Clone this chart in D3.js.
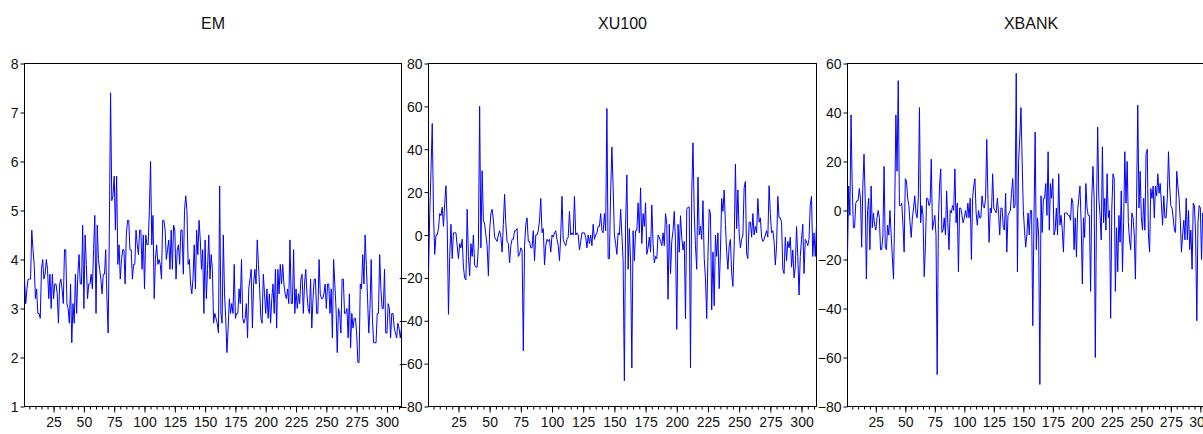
<!DOCTYPE html>
<html>
<head>
<meta charset="utf-8">
<style>
    body { margin: 0; background: #fff; overflow: hidden; }
    svg { display: block; background: #fff; }
    text { font-family: 'Liberation Sans Narrow', 'Arial Narrow', 'Liberation Sans', Arial, sans-serif; fill: #111; }
    .title { font-size: 16px; }
    .axis text { font-size: 14px; }
    .axis line, .axis path { stroke: #000; }
</style>
</head>
<body>
<svg id="chart" width="1203" height="434"></svg>

<script src="https://d3js.org/d3.v7.min.js"></script>
<script>
const emValues = [
    3.6, 3.1, 3.4, 3.6, 3.6, 3.6, 4.6, 4.2, 3.9, 3.2,
    3.4, 2.9, 2.9, 2.8, 3.8, 4.0, 3.6, 3.7, 4.0, 3.8,
    3.2, 3.7, 3.0, 3.7, 3.2, 3.5, 3.5, 3.3, 2.7, 3.5,
    3.6, 3.4, 3.1, 4.2, 4.2, 3.1, 3.0, 2.7, 3.5, 2.3,
    3.1, 2.7, 3.7, 2.9, 3.7, 4.1, 3.5, 3.5, 4.7, 3.0,
    4.5, 3.9, 3.2, 3.5, 3.5, 3.7, 3.4, 4.2, 4.9, 2.9,
    4.7, 4.0, 3.8, 3.6, 3.3, 3.7, 3.7, 4.2, 3.2, 2.5,
    4.6, 7.4, 5.2, 5.3, 5.7, 4.6, 5.7, 3.9, 4.3, 3.6,
    4.0, 4.2, 4.2, 3.5, 4.5, 4.8, 4.8, 4.2, 4.2, 3.6,
    3.9, 3.9, 4.6, 4.3, 4.1, 4.6, 4.6, 3.8, 4.5, 3.4,
    4.5, 4.3, 4.3, 5.0, 6.0, 4.3, 4.9, 3.2, 4.0, 4.3,
    3.9, 4.0, 3.9, 3.6, 4.8, 4.8, 4.6, 4.0, 4.2, 4.4,
    3.8, 4.6, 3.8, 4.7, 4.6, 3.6, 4.2, 4.3, 3.9, 4.6,
    4.6, 3.7, 5.0, 5.3, 5.0, 3.9, 4.0, 3.5, 3.3, 3.6,
    4.3, 3.4, 4.6, 4.1, 4.8, 4.4, 3.8, 4.2, 2.9, 4.4,
    3.2, 3.8, 4.5, 3.6, 4.1, 3.8, 2.7, 2.9, 2.8, 2.7,
    2.5, 5.5, 2.9, 2.7, 4.5, 3.3, 2.8, 2.1, 2.6, 3.2,
    2.9, 3.1, 2.9, 3.9, 2.8, 2.9, 2.9, 3.4, 3.1, 4.0,
    2.8, 2.7, 2.8, 3.1, 2.4, 3.4, 3.6, 3.8, 2.6, 3.5,
    3.8, 3.5, 4.4, 3.9, 3.4, 2.8, 2.7, 3.7, 3.3, 2.9,
    3.4, 2.8, 3.3, 2.7, 3.2, 3.5, 2.9, 3.8, 2.6, 3.8,
    3.3, 3.9, 3.5, 3.9, 3.5, 3.3, 3.2, 3.4, 3.1, 4.4,
    3.1, 3.1, 4.2, 2.9, 3.4, 3.0, 3.3, 3.1, 3.6, 3.7,
    2.9, 3.5, 3.8, 3.3, 3.0, 2.9, 3.6, 2.6, 3.2, 3.6,
    3.6, 2.9, 2.9, 4.0, 3.3, 3.2, 3.2, 3.3, 3.5, 3.0,
    3.5, 3.5, 2.9, 3.4, 2.4, 4.0, 3.5, 3.0, 2.1, 3.0,
    2.9, 2.5, 3.6, 3.6, 2.9, 2.9, 3.0, 2.4, 3.3, 2.2,
    2.9, 2.6, 2.8, 2.8, 2.5, 1.9, 1.9, 3.5, 3.4, 4.1,
    3.5, 4.5, 3.9, 3.2, 2.5, 3.0, 4.0, 2.8, 2.3, 2.3,
    2.3, 2.9, 2.9, 4.1, 3.4, 3.0, 3.0, 3.8, 2.5, 2.5,
    3.1, 3.0, 2.4, 2.9, 2.9, 2.6, 2.5, 2.4, 2.7, 2.6,
    2.4, 2.6
]

const xu100Values = [
    -18, 10, 30, 52, 10, -9, 0, 0, 3, 10,
    9, 13, 4, 15, 23, 5, -37, -10, 5, -11,
    1, 1, 1, -5, -11, -4, -6, -2, -15, -20,
    -21, 12, -10, -19, -4, -10, 0, -14, -15, -15,
    -5, 60, -6, 30, 7, 5, 0, -5, -19, 2,
    10, 12, 7, -1, -2, -3, 0, 2, -1, -8,
    5, 19, 5, -3, -4, -13, -5, -2, -2, 2,
    2, 3, -10, -9, -6, -7, -54, -5, 5, 8,
    -3, -3, -6, -6, 2, -12, 0, 0, 2, 7,
    17, 1, 3, -14, -5, -2, -3, -2, -8, 0,
    -1, 1, 2, -2, -5, -12, 0, 18, -2, -4,
    -5, -2, -1, 11, 0, 1, 0, 18, 0, 1,
    0, -7, -3, 1, 1, 1, -1, -6, 0, -4,
    0, -5, 5, -2, 0, 1, 4, 4, 10, 2,
    1, 10, 2, 59, -11, -11, 20, 41, 22, 0,
    -4, -9, 1, 0, 12, 0, -12, -68, 5, 28,
    -16, 3, -13, -62, 2, -12, 2, 2, 15, 1,
    22, -4, 10, 4, 15, -9, -6, -1, -8, 14,
    -4, -13, -10, -11, 0, -1, -3, -5, 1, -5,
    10, 5, -30, 5, -18, -3, 2, 11, -3, -44,
    5, -8, 9, -1, -7, -3, -39, 12, 13, 13,
    -62, 20, 43, 10, -5, -16, 27, 0, 4, -2,
    16, -11, -20, -39, -10, 12, 10, -35, -8, -33,
    0, -10, 1, -25, -8, 17, 11, 21, 5, -8,
    -16, -5, -2, -18, -24, -5, 33, 3, 21, 1,
    -6, -2, 0, 22, 25, -9, -11, 6, 6, -1,
    10, 0, 4, 1, 17, 6, 8, -1, -3, -2,
    0, 2, -1, 23, 10, 1, 2, -3, -14, -5,
    18, 8, 8, 6, -16, -18, -1, -12, -3, -6,
    -1, -15, -7, -20, -15, 4, -10, -28, -10, -2,
    5, -18, -2, -3, -5, -2, 14, 18, -10, 1,
    -10, 5
]

// only the part inside the picture (the panel runs past the right edge)
const xbankValues = [
    -18, 10, -2, 39, 10, -7, -7, 3, 4, 4,
    9, 5, -15, 10, 23, 5, -28, 0, 5, -16,
    10, -7, -1, -6, -8, -3, 0, -3, -16, -16,
    -10, 18, -15, -16, -6, -10, 0, -10, -19, -28,
    0, 39, 16, 53, 2, 2, 3, -6, -17, 13,
    12, 5, 2, -5, -11, -3, 1, 6, -1, -3,
    5, 42, -5, 2, -2, -27, -15, 5, 5, 2,
    3, 21, -8, -5, -2, -10, -67, -5, 10, 17,
    -9, -8, -3, -10, 8, -5, -16, 0, -1, 2,
    0, 17, -5, 3, -25, 1, 1, -2, -5, -3,
    0, -3, 3, -3, 5, -20, 5, 10, 13, -1,
    -6, 0, -3, -3, 6, 2, 1, 5, 29, 5,
    -13, 1, -1, 15, 1, 0, -1, 5, -1, -10,
    1, 1, -7, -8, 7, -17, -2, -1, 0, 7,
    13, 1, 2, 56, -25, 20, 30, 42, 20, 0,
    -8, -15, -10, -1, -10, 0, 0, -47, -5, 32,
    -16, -3, -10, -71, 6, -9, 5, 5, 11, -2,
    24, -8, 11, 5, 13, -10, -8, 1, -10, 15,
    -6, -2, -8, -17, -1, -1, -1, -2, -2, -4,
    5, 3, -16, -3, -19, 0, 5, 10, -5, -30,
    -3, -11, 11, 1, -2, -2, -33, 5, 18, 5,
    -60, 1, 34, 5, -2, -12, 26, -5, 5, -8,
    15, -3, 0, -44, 1, 15, 13, -33, -7, -25,
    -2, -13, 8, -25, -5, 24, 3, 20, -5, -12,
    -16, -1, -3, -10, -28, 5, 43, 1, 16, -3,
    -8, 5, -8, 23, 25, -10, -17, 9, 5, 10,
    -3, 10, 6, 15, 7, 11, 3, -6, 6, -3,
    -3, 5, 24, 10, 2, 1, -3, -8, -9, 16,
    10, 5, -4, -17, -10, -4, -12, 5, -12, 0,
    -16, -8, -24, 3, 2, -10, -45, -5, 2, 1,
    -20, -1, -3
]

const titles = ["EM", "XU100", "XBANK"]
const emTicks = [1, 2, 3, 4, 5, 6, 7, 8]
const xu100Ticks = [-80, -60, -40, -20, 0, 20, 40, 60, 80]
const xbankTicks = [-80, -60, -40, -20, 0, 20, 40, 60]
const obsMajorTicks = [25, 50, 75, 100, 125, 150, 175, 200, 225, 250, 275, 300]
const obsCount = 312

const svg = d3.select("#chart")

let plotTop = 63.5, plotBottom = 406.5

// panel boxes, the third one is cut by the right edge of the page
let panels = [
    { title: titles[0], values: emValues, ticks: emTicks, left: 24.5, right: 401.5 },
    { title: titles[1], values: xu100Values, ticks: xu100Ticks, left: 428.5, right: 816.5 },
    { title: titles[2], values: xbankValues, ticks: xbankTicks, left: 847.5, right: 1214.5 }
]

let minorTicks = d3.range(5, obsCount, 5)

panels.forEach(p => {
    let g = svg.append("g")

    let x = d3.scaleLinear()
        .domain([1, obsCount])
        .range([p.left, p.right])

    let y = d3.scaleLinear()
        .domain(d3.extent(p.ticks))
        .range([plotBottom, plotTop])

    // title
    g.append("text")
        .attr("class", "title")
        .attr("x", (p.left + p.right) / 2)
        .attr("y", 29)
        .attr("text-anchor", "middle")
        .text(p.title)

    // box
    g.append("rect")
        .attr("x", p.left)
        .attr("y", plotTop)
        .attr("width", p.right - p.left)
        .attr("height", plotBottom - plotTop)
        .style("fill", "none")
        .style("stroke", "#000")
        .style("stroke-width", 1)

    // minor ticks every 5 obs
    g.append("g")
        .attr("class", "axis")
        .attr("transform", `translate(0,${plotBottom})`)
        .call(d3.axisBottom(x).tickValues(minorTicks).tickSize(3).tickFormat(""))
        .call(a => a.select(".domain").remove())

    // labelled ticks
    g.append("g")
        .attr("class", "axis")
        .attr("transform", `translate(0,${plotBottom})`)
        .call(d3.axisBottom(x).tickValues(obsMajorTicks).tickSize(6).tickPadding(5).tickFormat(d3.format("d")))
        .call(a => a.select(".domain").remove())

    g.append("g")
        .attr("class", "axis")
        .attr("transform", `translate(${p.left},0)`)
        .call(d3.axisLeft(y).tickValues(p.ticks).tickSize(4).tickPadding(2).tickFormat(d3.format("d")))
        .call(a => a.select(".domain").remove())
        .call(a => a.selectAll("text").attr("dy", "0.36em"))

    let line = d3.line()
        .x((d, i) => x(i + 1))
        .y(d => y(d))

    g.append("path")
        .datum(p.values)
        .attr("d", line)
        .style("fill", "none")
        .style("stroke", "#0000ff")
        .style("stroke-width", 1)
})
</script>
</body>
</html>
